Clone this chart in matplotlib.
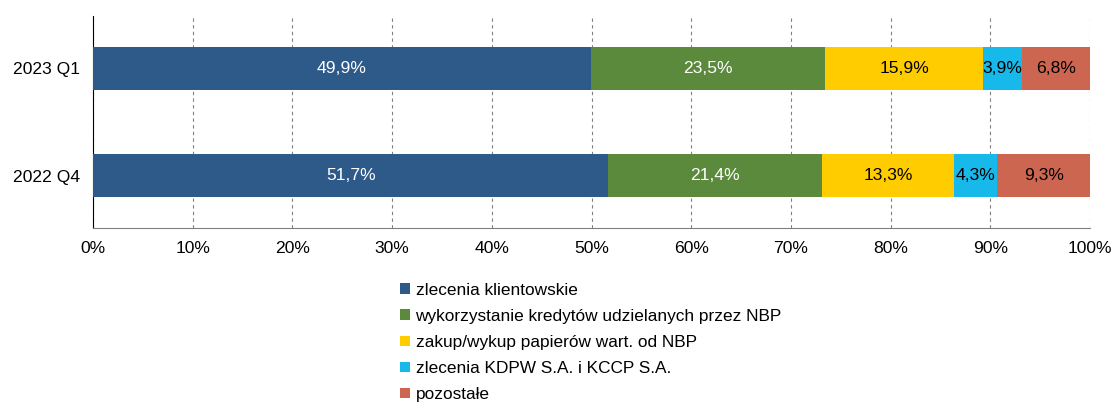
import matplotlib.pyplot as plt
import numpy as np

plt.rcParams['font.family'] = ['Liberation Sans', 'DejaVu Sans']

# data
periods = ['2022 Q4', '2023 Q1']
series = ['zlecenia klientowskie',
          'wykorzystanie kredytów udzielanych przez NBP',
          'zakup/wykup papierów wart. od NBP',
          'zlecenia KDPW S.A. i KCCP S.A.',
          'pozostałe']
klientowskie = [51.7, 49.9]
kredyty_nbp = [21.4, 23.5]
papiery_nbp = [13.3, 15.9]
kdpw_kccp = [4.3, 3.9]
pozostale = [9.3, 6.8]

colors = ['#2E5A8A', '#5B8A3C', '#FFCC00', '#17B8EA', '#CC6650']
text_colors = ['white', 'white', 'black', 'black', 'black']
fs = 12.6

fig = plt.figure(figsize=(11.12, 4.05), dpi=100)
ax = fig.add_axes([93/1112, 1 - 228/405, (1090 - 93)/1112, (228 - 16)/405])

y = np.arange(len(periods))
left = np.zeros(len(periods))
for vals, name, col, tcol in zip([klientowskie, kredyty_nbp, papiery_nbp, kdpw_kccp, pozostale],
                                 series, colors, text_colors):
    bars = ax.barh(y, vals, left=left, height=0.395, color=col, label=name, zorder=3)
    labels = [('%.1f%%' % v).replace('.', ',') for v in vals]
    ax.bar_label(bars, labels=labels, label_type='center', color=tcol, fontsize=fs)
    left += np.array(vals)

ax.set_xlim(0, 100)
ax.set_ylim(-0.49, 1.49)
ax.set_yticks(y)
ax.set_yticklabels(periods, fontsize=fs)
ax.set_xticks(np.arange(0, 101, 10))
ax.set_xticklabels(['%d%%' % t for t in range(0, 101, 10)], fontsize=fs)
ax.tick_params(length=0)
ax.tick_params(axis='x', pad=9)
ax.tick_params(axis='y', pad=9)
ax.grid(axis='x', linestyle=(0, (3, 3)), color='#808080', linewidth=0.8, zorder=0)
for s in ['top', 'right']:
    ax.spines[s].set_visible(False)
ax.spines['left'].set_color('black')
ax.spines['bottom'].set_color('#808080')

fig.legend(loc='upper left', bbox_to_anchor=(400/1112, 1 - 283/405), frameon=False,
           fontsize=12.4, handlelength=0.6, handleheight=0.6, handletextpad=0.3,
           labelspacing=0.64, borderpad=0, borderaxespad=0)

fig.savefig('out.png', dpi=100)
